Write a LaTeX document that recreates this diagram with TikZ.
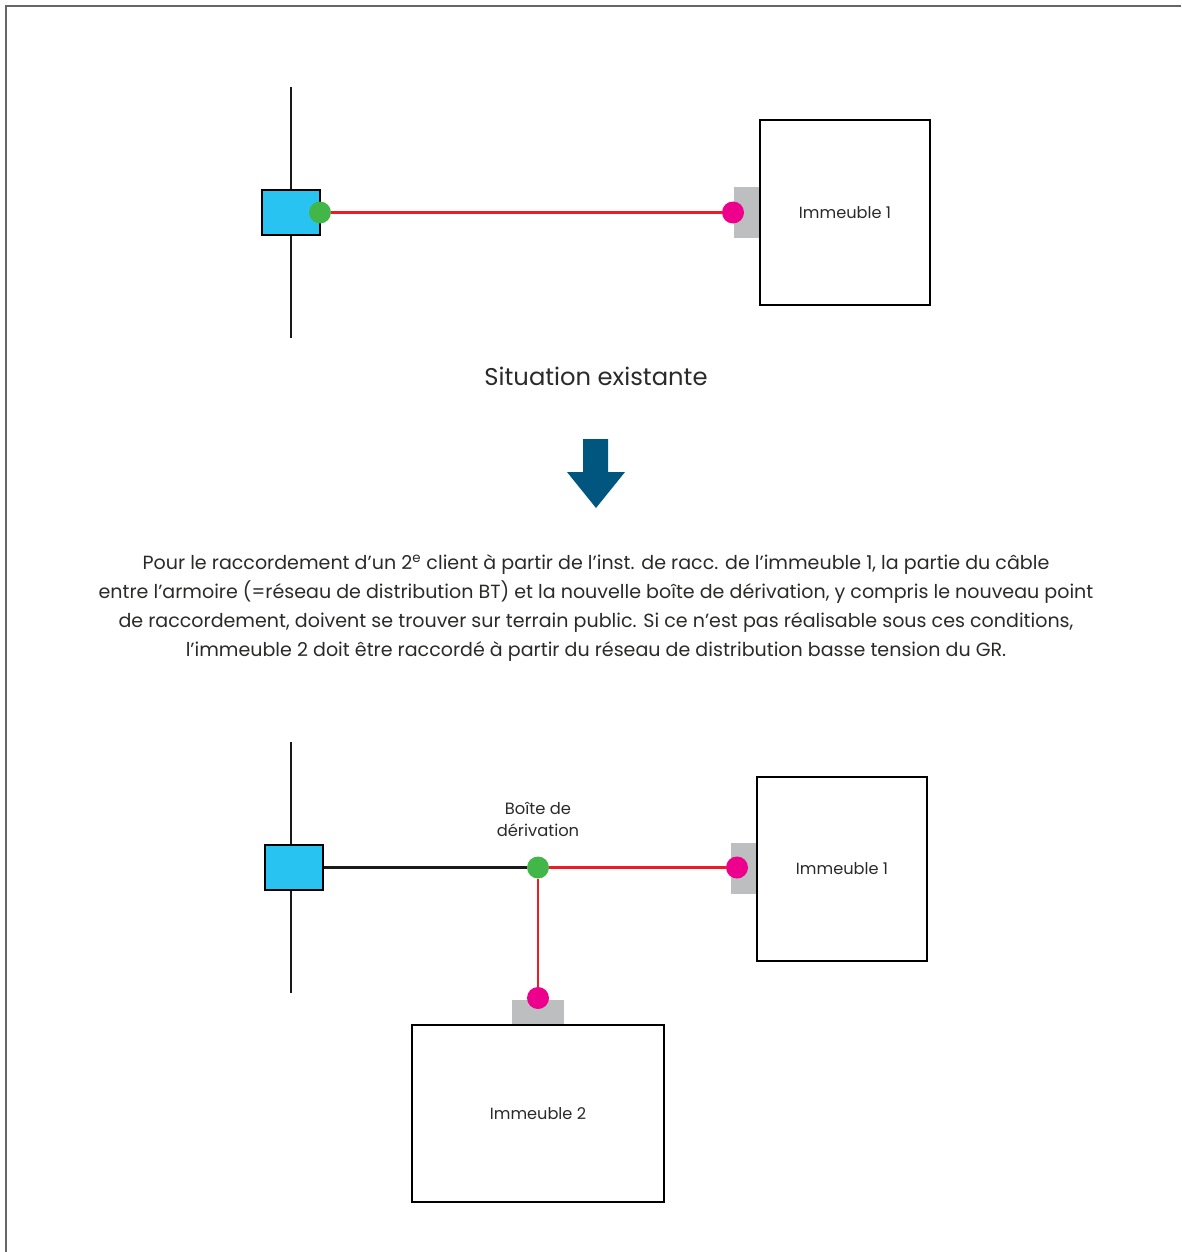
\documentclass[tikz,border=0pt]{standalone}
\usepackage{fontspec}
\setmainfont{Poppins}
\usetikzlibrary{calc}
\definecolor{armoireblue}{HTML}{29C3F2}
\definecolor{derivgreen}{HTML}{43B649}
\definecolor{raccpink}{HTML}{EC008C}
\definecolor{cablered}{HTML}{ED1C24}
\definecolor{plategray}{HTML}{BCBEC0}
\definecolor{arrowblue}{HTML}{00567F}
\definecolor{textgray}{HTML}{2B2A29}
\tikzset{
  armoire/.style={draw=black, fill=armoireblue, line width=1.6pt, minimum width=1.16cm, minimum height=0.9cm, inner sep=0pt},
  dot/.style={circle, inner sep=0pt, minimum size=0.44cm},
  plate/.style={fill=plategray, inner sep=0pt},
  building/.style={draw=black, line width=1.6pt, inner sep=0pt, text=textgray, font=\fontsize{9.2}{10}\selectfont},
  cable/.style={draw=cablered, line width=1.4pt},
  reseau/.style={draw=black!90, line width=1.5pt}
}

\begin{document}
\begin{tikzpicture}[x=0.02cm, y=-0.02cm]
		%%%%% START %%%%%
		\useasboundingbox (0, 0) rectangle (1181, 1252);
		\draw[line width=0.8pt, color=black!60] (6, 1252) -- (6, 6) -- (1181, 6);

		% situation existante
		\draw[reseau] (291, 87) -- (291, 338);
		\node[armoire] (arm1) at (291, 212.5) {};
		\node[plate, minimum width=0.52cm, minimum height=1.02cm] (plaque1) at (747, 212.5) {};
		\node[building, minimum width=3.4cm, minimum height=3.7cm] (imm1) at (845, 212.5) {Immeuble 1};
		\node[dot, fill=derivgreen] (vert1) at (320, 212.5) {};
		\node[dot, fill=raccpink] (rose1) at (733, 212.5) {};
		\draw[cable] (vert1) -- (rose1);

		\node[text=textgray, font=\fontsize{13.8}{15}\selectfont] (titre) at (596, 376) {Situation existante};

		\fill[arrowblue] (583, 439) -- (608, 439) -- (608, 472) -- (625, 472) -- (596, 508) -- (567, 472) -- (583, 472) -- cycle;

		\node[text=textgray, align=center, font=\fontsize{10.85}{16.6}\selectfont] (texte) at (596, 608) {Pour le raccordement d'un 2\textsuperscript{e} client à partir de l'inst. de racc. de l'immeuble 1, la partie du câble\\
		entre l'armoire (=réseau de distribution BT) et la nouvelle boîte de dérivation, y compris le nouveau point\\
		de raccordement, doivent se trouver sur terrain public. Si ce n'est pas réalisable sous ces conditions,\\
		l'immeuble 2 doit être raccordé à partir du réseau de distribution basse tension du GR.};

		% nouvelle situation
		\draw[reseau] (291, 742) -- (291, 993);
		\node[armoire] (arm2) at (294, 867.5) {};
		\node[plate, minimum width=0.52cm, minimum height=1.02cm] (plaque2) at (744, 868.5) {};
		\node[building, minimum width=3.4cm, minimum height=3.68cm] (imm2a) at (842, 869) {Immeuble 1};
		\node[plate, minimum width=1.04cm, minimum height=0.5cm] (plaque3) at (538, 1012.5) {};
		\node[building, minimum width=5.04cm, minimum height=3.54cm] (imm2b) at (538, 1113.5) {Immeuble 2};
		\node[dot, fill=derivgreen] (boite) at (538, 867.5) {};
		\node[dot, fill=raccpink] (rose2) at (737, 867.5) {};
		\node[dot, fill=raccpink] (rose3) at (538, 998) {};
		\draw[reseau] (arm2) -- (boite);
		\draw[cable] (boite) -- (rose2);
		\draw[cable] (boite) -- (rose3);
		\node[text=textgray, align=center, font=\fontsize{9.3}{12.5}\selectfont] (legende) at (538, 819) {Boîte de\\dérivation};
		%%%%% END %%%%%
\end{tikzpicture}
\end{document}
